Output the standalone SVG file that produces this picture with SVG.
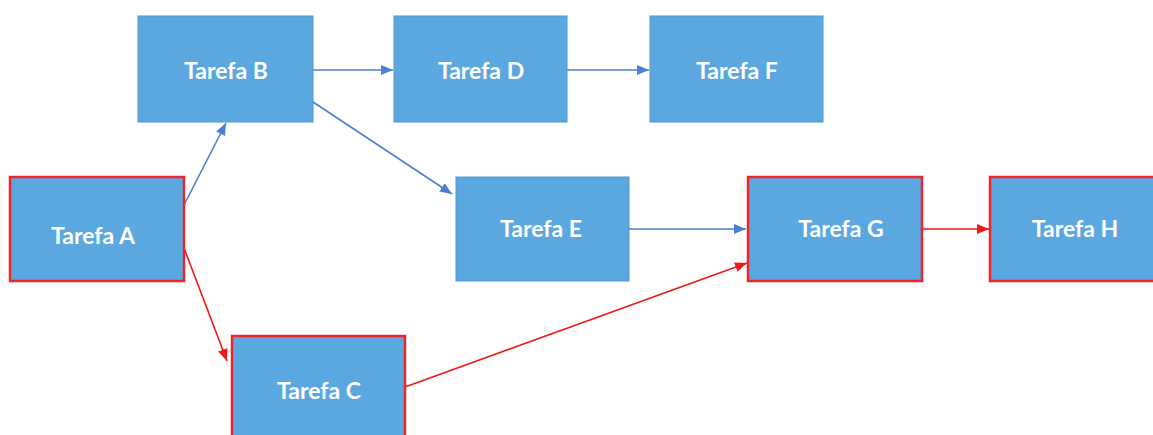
<svg xmlns="http://www.w3.org/2000/svg" width="1153" height="435" viewBox="0 0 1153 435">
<defs>
<marker id="ab" viewBox="0 0 12 10" refX="12" refY="5" markerWidth="12" markerHeight="10" markerUnits="userSpaceOnUse" orient="auto"><path d="M0,0 L12,5 L0,10 Z" fill="#4A7FD3"/></marker>
<marker id="ar" viewBox="0 0 12 10" refX="12" refY="5" markerWidth="12" markerHeight="10" markerUnits="userSpaceOnUse" orient="auto"><path d="M0,0 L12,5 L0,10 Z" fill="#F01818"/></marker>
</defs>
<style>
.box{fill:#5BA8E0;stroke:#4E97CF;stroke-width:1}
.crit{fill:#5BA8E0;stroke:#EE2428;stroke-width:2.5}
.lbl{fill:#FFFFFF;font-family:Lato,"Liberation Sans",sans-serif;font-weight:bold;font-size:23px;text-anchor:middle;dominant-baseline:central}
.cb{stroke:#4A7FD3;stroke-width:1.6;fill:none}
.cr{stroke:#F01818;stroke-width:1.6;fill:none}
</style>
<rect width="1153" height="435" fill="#FFFFFF"/>
<g id="connectors">
<line class="cb" x1="184" y1="205" x2="226" y2="123" marker-end="url(#ab)"/>
<line class="cb" x1="313" y1="70" x2="393" y2="70" marker-end="url(#ab)"/>
<line class="cb" x1="313" y1="102" x2="452" y2="194" marker-end="url(#ab)"/>
<line class="cb" x1="567" y1="70" x2="649" y2="70" marker-end="url(#ab)"/>
<line class="cb" x1="629" y1="229" x2="746" y2="229" marker-end="url(#ab)"/>
<line class="cr" x1="184" y1="248" x2="227" y2="361" marker-end="url(#ar)"/>
<line class="cr" x1="405" y1="387" x2="747" y2="263" marker-end="url(#ar)"/>
<line class="cr" x1="922" y1="229" x2="989" y2="229" marker-end="url(#ar)"/>
</g>
<g id="nodeA"><rect class="crit" x="10" y="177" width="174" height="104"/><text class="lbl" x="93" y="235">Tarefa A</text></g>
<g id="nodeB"><rect class="box" x="138" y="16" width="175" height="106"/><text class="lbl" x="226" y="70">Tarefa B</text></g>
<g id="nodeC"><rect class="crit" x="232" y="336" width="173" height="110"/><text class="lbl" x="319" y="390">Tarefa C</text></g>
<g id="nodeD"><rect class="box" x="394" y="16" width="173" height="106"/><text class="lbl" x="481" y="70">Tarefa D</text></g>
<g id="nodeF"><rect class="box" x="650" y="16" width="173" height="106"/><text class="lbl" x="737" y="70">Tarefa F</text></g>
<g id="nodeE"><rect class="box" x="456" y="177" width="173" height="104"/><text class="lbl" x="541" y="228">Tarefa E</text></g>
<g id="nodeG"><rect class="crit" x="748" y="177" width="174" height="104"/><text class="lbl" x="841" y="228">Tarefa G</text></g>
<g id="nodeH"><rect class="crit" x="990" y="177" width="174" height="104"/><text class="lbl" x="1075" y="228">Tarefa H</text></g>
</svg>
